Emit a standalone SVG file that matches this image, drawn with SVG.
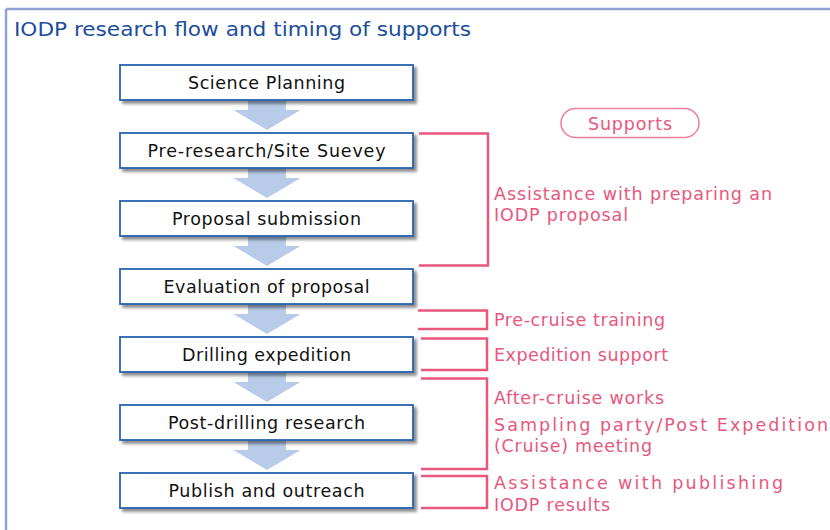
<svg xmlns="http://www.w3.org/2000/svg" width="830" height="530" viewBox="0 0 830 530">
<defs>
<filter id="sh" x="-10%" y="-30%" width="125%" height="180%">
<feGaussianBlur in="SourceAlpha" stdDeviation="1.5"/>
<feOffset dx="3" dy="3" result="b"/>
<feComponentTransfer><feFuncA type="linear" slope="0.45"/></feComponentTransfer>
<feMerge><feMergeNode/><feMergeNode in="SourceGraphic"/></feMerge>
</filter>
<path id="arr" d="M-19,0 H19 V10 H33.5 L0,30 L-33.5,10 H-19 Z"/>
</defs>
<style>
.box{fill:#fff;stroke:#2A63B0;stroke-width:1.8;filter:url(#sh)}
.bt{font-family:"DejaVu Sans",Verdana,sans-serif;font-size:17.5px;fill:#111;text-anchor:middle}
.arrow{fill:#B8CBE8}
.br{fill:none;stroke:#E8577D;stroke-width:2.5}
.pt{font-family:"DejaVu Sans",Verdana,sans-serif;font-size:17.5px;fill:#E8577D}
.frame{stroke:#8FA2D6;stroke-width:2.5}
</style>
<rect width="830" height="530" fill="#fff"/>
<line class="frame" x1="6" y1="9" x2="830" y2="9"/>
<line class="frame" x1="6" y1="9" x2="6" y2="530"/>
<text x="14" y="36" font-family="'DejaVu Sans Condensed','DejaVu Sans',sans-serif" font-size="20" fill="#1B4E9B" textLength="457" lengthAdjust="spacingAndGlyphs">IODP research flow and timing of supports</text>

<g id="connectors">
<use href="#arr" class="arrow" x="267" y="100"/>
<use href="#arr" class="arrow" x="267" y="168"/>
<use href="#arr" class="arrow" x="267" y="236"/>
<use href="#arr" class="arrow" x="267" y="304"/>
<use href="#arr" class="arrow" x="267" y="372"/>
<use href="#arr" class="arrow" x="267" y="440"/>
</g>

<g id="n1"><rect class="box" x="120" y="65" width="293" height="35"/><text class="bt" x="266.5" y="88.5" textLength="157" lengthAdjust="spacing">Science Planning</text></g>
<g id="n2"><rect class="box" x="120" y="133" width="293" height="35"/><text class="bt" x="266.5" y="156.5" textLength="238" lengthAdjust="spacing">Pre-research/Site Suevey</text></g>
<g id="n3"><rect class="box" x="120" y="201" width="293" height="35"/><text class="bt" x="266.5" y="224.5" textLength="189" lengthAdjust="spacing">Proposal submission</text></g>
<g id="n4"><rect class="box" x="120" y="269" width="293" height="35"/><text class="bt" x="266.5" y="292.5" textLength="206" lengthAdjust="spacing">Evaluation of proposal</text></g>
<g id="n5"><rect class="box" x="120" y="337" width="293" height="35"/><text class="bt" x="266.5" y="360.5" textLength="169" lengthAdjust="spacing">Drilling expedition</text></g>
<g id="n6"><rect class="box" x="120" y="405" width="293" height="35"/><text class="bt" x="266.5" y="428.5" textLength="197" lengthAdjust="spacing">Post-drilling research</text></g>
<g id="n7"><rect class="box" x="120" y="473" width="293" height="35"/><text class="bt" x="266.5" y="496.5" textLength="196" lengthAdjust="spacing">Publish and outreach</text></g>

<g id="supports">
<rect x="561" y="108.5" width="138" height="29" rx="14.5" fill="#fff" stroke="#F07D9C" stroke-width="1.5"/>
<text class="pt" x="630" y="129.5" text-anchor="middle" textLength="84" lengthAdjust="spacing">Supports</text>
</g>

<g id="s1">
<path class="br" d="M419,133.5 H488 V265.5 H419"/>
<text class="pt" x="494" y="200" textLength="278" lengthAdjust="spacing">Assistance with preparing an</text>
<text class="pt" x="494" y="220.5" textLength="134" lengthAdjust="spacing">IODP proposal</text>
</g>
<g id="s2">
<path class="br" d="M418,310.5 H487 V329 H418"/>
<text class="pt" x="494" y="325.5" textLength="171" lengthAdjust="spacing">Pre-cruise training</text>
</g>
<g id="s3">
<path class="br" d="M421,338.5 H487 V370 H421"/>
<text class="pt" x="494" y="360.5" textLength="174" lengthAdjust="spacing">Expedition support</text>
</g>
<g id="s4">
<path class="br" d="M421,378.5 H487 V469 H421"/>
<text class="pt" x="494" y="403.5" textLength="170" lengthAdjust="spacing">After-cruise works</text>
<text class="pt" x="494" y="431" textLength="334" lengthAdjust="spacing">Sampling party/Post Expedition</text>
<text class="pt" x="494" y="452" textLength="158" lengthAdjust="spacing">(Cruise) meeting</text>
</g>
<g id="s5">
<path class="br" d="M421,476 H487 V508 H421"/>
<text class="pt" x="494" y="489" textLength="289" lengthAdjust="spacing">Assistance with publishing</text>
<text class="pt" x="494" y="510.5" textLength="116" lengthAdjust="spacing">IODP results</text>
</g>
</svg>
